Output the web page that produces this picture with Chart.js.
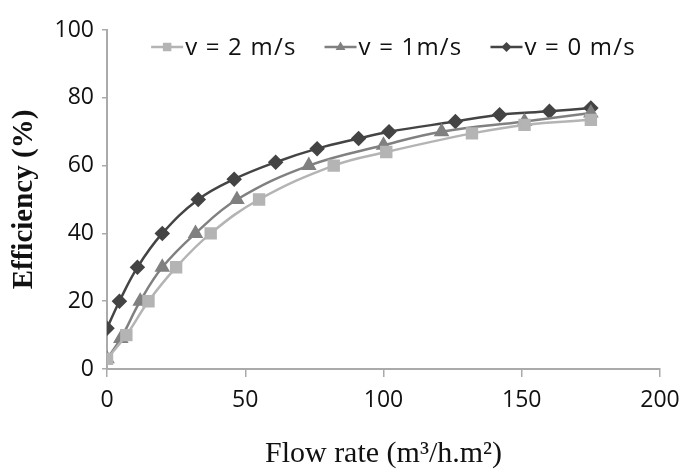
<!DOCTYPE html>
<html>
<head>
<meta charset="utf-8">
<script src="https://cdn.jsdelivr.net/npm/chart.js@4"></script>
<style>
  html, body { margin: 0; padding: 0; background: #fff; }
  #wrap { width: 683px; height: 472px; }
</style>
</head>
<body>
<div id="wrap"><canvas id="chart" width="683" height="472"></canvas></div>
<script>
const flow2 = [0, 7, 15, 25, 37.5, 55, 82, 101, 132, 151, 175];
const eff2  = [3, 10, 20, 30, 40, 50, 60, 64, 69.5, 72, 73.5];
const flow1 = [0, 5, 12, 20, 32, 47, 73, 100, 121, 151, 175];
const eff1  = [3, 9, 20, 30, 40, 50, 60, 66, 70, 73, 75.5];
const flow0 = [0, 4.5, 11, 20, 33, 46, 61, 76, 91, 102, 126, 142, 160, 175];
const eff0  = [12, 20, 30, 40, 50, 56, 61, 65, 68, 70, 73, 75, 76, 77];

const xTicks = [0, 50, 100, 150, 200];
const yTicks = [0, 20, 40, 60, 80, 100];

const pts = (xs, ys) => xs.map((x, i) => ({ x: x, y: ys[i] }));

function marker(ctx, style, x, y, r) {
  ctx.beginPath();
  if (style === 'rect') {
    const s = r * Math.SQRT1_2;
    ctx.rect(x - s, y - s, 2 * s, 2 * s);
  } else if (style === 'triangle') {
    ctx.moveTo(x, y - r);
    ctx.lineTo(x + r * 0.9, y + r * 0.55);
    ctx.lineTo(x - r * 0.9, y + r * 0.55);
    ctx.closePath();
  } else {
    ctx.moveTo(x, y - r);
    ctx.lineTo(x + r, y);
    ctx.lineTo(x, y + r);
    ctx.lineTo(x - r, y);
    ctx.closePath();
  }
  ctx.fill();
}

// legend drawn inside the top of the plot, Excel style (line + marker + text)
const inlineLegend = {
  id: 'inlineLegend',
  afterDatasetsDraw(chart) {
    const { ctx, chartArea } = chart;
    ctx.save();
    ctx.font = '500 24px "Open Sans"';
    if ('letterSpacing' in ctx) ctx.letterSpacing = '1.2px';
    ctx.textBaseline = 'middle';
    const lineLen = 32, gap = 2, space = 28;
    const items = chart.data.datasets.map(ds => ({ ds: ds, w: ctx.measureText(ds.label).width }));
    const total = items.reduce((s, it) => s + lineLen + gap + it.w, 0) + space * (items.length - 1);
    let x = (chartArea.left + chartArea.right) / 2 - total / 2 + 10;
    const y = chartArea.top + 17;
    items.forEach(it => {
      ctx.strokeStyle = it.ds.borderColor;
      ctx.fillStyle = it.ds.borderColor;
      ctx.lineWidth = 2.5;
      ctx.beginPath();
      ctx.moveTo(x, y);
      ctx.lineTo(x + lineLen, y);
      ctx.stroke();
      marker(ctx, it.ds.pointStyle, x + lineLen / 2, y, it.ds.pointRadius - 1);
      ctx.fillStyle = '#111';
      ctx.fillText(it.ds.label, x + lineLen + gap, y + 1);
      x += lineLen + gap + it.w + space;
    });
    ctx.restore();
  }
};

new Chart(document.getElementById('chart'), {
  type: 'line',
  data: {
    datasets: [
      {
        label: 'v = 2 m/s',
        data: pts(flow2, eff2),
        borderColor: '#b4b4b4',
        backgroundColor: '#b4b4b4',
        pointStyle: 'rect',
        pointRadius: 7,
        borderWidth: 2.5,
        tension: 0.4
      },
      {
        label: 'v = 1m/s',
        data: pts(flow1, eff1),
        borderColor: '#808080',
        backgroundColor: '#808080',
        pointStyle: 'triangle',
        pointRadius: 6.5,
        borderWidth: 2.5,
        tension: 0.4
      },
      {
        label: 'v = 0 m/s',
        data: pts(flow0, eff0),
        borderColor: '#444',
        backgroundColor: '#444',
        pointStyle: 'rectRot',
        pointRadius: 6,
        borderWidth: 2.5,
        tension: 0.4
      }
    ]
  },
  plugins: [inlineLegend],
  options: {
    responsive: false,
    animation: false,
    layout: { padding: { left: 0, right: 0, top: 30, bottom: 0 } },
    plugins: {
      legend: { display: false },
      tooltip: { enabled: false }
    },
    scales: {
      x: {
        type: 'linear',
        min: 0, max: 200,
        afterBuildTicks: ax => { ax.ticks = xTicks.map(v => ({ value: v })); },
        afterFit: ax => { ax.height = 103; ax.paddingRight = 23; ax.paddingLeft = 0; },
        grid: { display: true, drawOnChartArea: false, drawTicks: true, tickLength: 8, color: '#aaa', lineWidth: 1.5 },
        border: { color: '#aaa', width: 2 },
        ticks: { color: '#111', font: { family: 'Open Sans', size: 23, weight: '500' }, padding: 10, maxRotation: 0 },
        title: {
          display: true,
          text: 'Flow rate (m³/h.m²)',
          color: '#111',
          font: { family: 'Liberation Serif', size: 30 },
          padding: { top: 0, bottom: 0 }
        }
      },
      y: {
        min: 0, max: 100,
        afterBuildTicks: ax => { ax.ticks = yTicks.map(v => ({ value: v })); },
        afterFit: ax => { ax.width = 107; },
        grid: { display: true, drawOnChartArea: false, drawTicks: true, tickLength: 5, color: '#aaa', lineWidth: 1.5 },
        border: { color: '#aaa', width: 2 },
        ticks: { color: '#111', font: { family: 'Open Sans', size: 23, weight: '500' }, padding: 8 },
        title: {
          display: true,
          text: 'Efficiency (%)',
          color: '#111',
          font: { family: 'Liberation Serif', size: 29, weight: 'bold' },
          padding: { top: 7, bottom: 0 }
        }
      }
    }
  }
});
</script>
</body>
</html>
